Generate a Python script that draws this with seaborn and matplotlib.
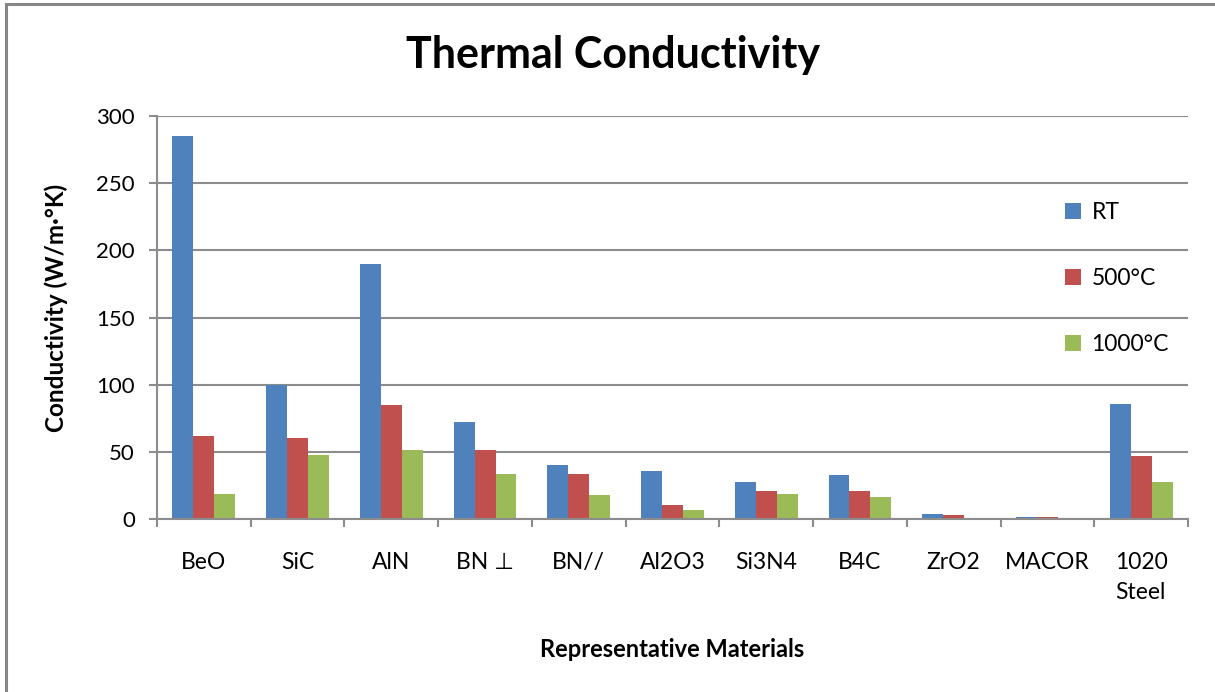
import pandas as pd
import matplotlib
matplotlib.use("Agg")
import matplotlib.pyplot as plt
import seaborn as sns
from matplotlib.patches import Rectangle

# data
materials = ["BeO", "SiC", "AlN", "BN \u22a5", "BN//", "Al2O3", "Si3N4", "B4C",
             "ZrO2", "MACOR", "1020\nSteel"]
series_names = ["RT", "500°C", "1000°C"]
rt = [285, 100, 190, 72.5, 40.5, 35.5, 27.5, 32.5, 3.7, 1.3, 85.7]
c500 = [61.5, 60, 85, 51.5, 33.5, 10.5, 20.5, 21, 2.7, 1.3, 46.8]
c1000 = [18.6, 47.5, 51.5, 33.3, 17.5, 6.7, 18.6, 16.7, 0, 0, 27.7]
colors = ["#4F81BD", "#C0504D", "#9BBB59"]

rows = []
for name, vals in zip(series_names, [rt, c500, c1000]):
    for m, v in zip(materials, vals):
        rows.append({"material": m, "series": name, "value": v})
df = pd.DataFrame(rows)

sns.set_theme(style="white")
plt.rcParams["font.family"] = ["Lato", "DejaVu Sans"]
plt.rcParams["text.color"] = "black"
plt.rcParams["axes.labelcolor"] = "black"

fig = plt.figure(figsize=(12.15, 6.92), dpi=100)
ax = fig.add_axes([157 / 1215, 0.25, (1188 - 157) / 1215, (519 - 116) / 692])

sns.barplot(data=df, x="material", y="value", hue="series", palette=colors,
            saturation=1, width=0.67, linewidth=0, ax=ax)

grid_c = "#8c8c8c"
ax.set_ylim(0, 300)
ax.set_xlim(-0.5, len(materials) - 0.5)
ax.set_yticks(range(0, 301, 50))
ax.yaxis.grid(True, color=grid_c, linewidth=1.5)
ax.set_axisbelow(True)
for s in ["top", "right"]:
    ax.spines[s].set_visible(False)
for s in ["left", "bottom"]:
    ax.spines[s].set_color(grid_c)
    ax.spines[s].set_linewidth(1.5)

ax.tick_params(axis="y", which="major", left=True, length=6, width=1.5,
               color=grid_c, labelsize=16, pad=10, labelcolor="black")
ax.set_xticks(range(len(materials)))
ax.set_xticklabels(materials, linespacing=1.5, multialignment="left")
ax.tick_params(axis="x", which="major", length=0, labelsize=16.5, pad=24,
               labelcolor="black")
ax.set_xticks([i - 0.5 for i in range(len(materials) + 1)], minor=True)
ax.tick_params(axis="x", which="minor", bottom=True, length=6, width=1.5,
               color=grid_c)

ax.set_xlabel("Representative Materials", fontsize=17, fontweight="bold")
ax.set_ylabel("Conductivity (W/m·°K)", fontsize=17.5, fontweight="bold")
ax.xaxis.set_label_coords(0.5, -0.295)
ax.yaxis.set_label_coords(-0.0863, 0.524)

handles, labels = ax.get_legend_handles_labels()
ax.legend(handles, labels, loc="center left", bbox_to_anchor=(0.872, 0.597),
          frameon=False, fontsize=16.5, handlelength=0.7, handleheight=0.7,
          handletextpad=0.45, labelspacing=1.95, borderaxespad=0)

fig.text(613 / 1215, 1 - 55 / 692, "Thermal Conductivity", ha="center",
         va="center", fontsize=31, fontweight="bold")

fig.patches.append(Rectangle((6 / 1215, -0.05), 1.2, 1.05 - 4 / 692,
                             transform=fig.transFigure, fill=False,
                             edgecolor="#868686", linewidth=2.2))

fig.savefig("out.png", dpi=100)
